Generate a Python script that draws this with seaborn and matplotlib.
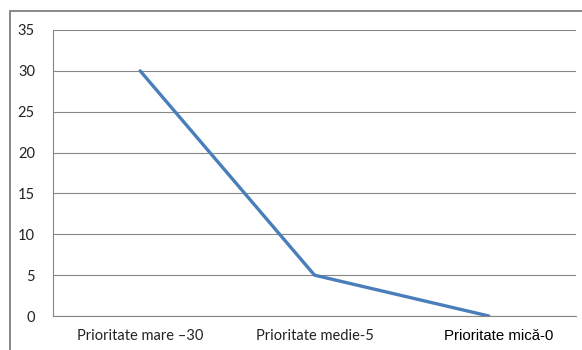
import matplotlib
matplotlib.use("Agg")
import matplotlib.pyplot as plt
import seaborn as sns
import pandas as pd
from matplotlib.patches import Rectangle

categories = ["Prioritate mare \u201330", "Prioritate medie-5", "Prioritate mic\u0103-0"]
values = [30, 5, 0]
yticks = [0, 5, 10, 15, 20, 25, 30, 35]

sns.set_style("white")
plt.rcParams['font.family'] = ['Lato', 'DejaVu Sans']

fig = plt.figure(figsize=(5.82, 3.5), dpi=100)
ax = fig.add_axes([53/582, 1-316/350, (576-53)/582, (316-30)/350])

df = pd.DataFrame({"cat": categories, "val": values})
sns.lineplot(data=df, x="cat", y="val", ax=ax, color="#4a7ebb", linewidth=2.4, sort=False)

grey = "#868686"
ax.set_ylim(0, 35)
ax.set_xlim(-0.5, 2.5)
ax.set_yticks(yticks)
ax.set_yticklabels([str(t) for t in yticks], fontsize=10.5, color="#222222")
ax.yaxis.grid(True, color=grey, linewidth=0.8)
ax.set_axisbelow(True)
ax.set_xlabel("")
ax.set_ylabel("")

ax.set_xticks([0, 1, 2])
ax.set_xticks([-0.5, 0.5, 1.5, 2.5], minor=True)
ax.set_xticklabels(categories[:2] + [""], fontsize=10.5, color="#222222")
# third category label drawn in a different font, slightly right of centre as in the reference
ax.annotate(categories[2], xy=(2, 0), xycoords=("data", "axes fraction"),
            xytext=(7, -9), textcoords="offset points", ha="center", va="top",
            fontsize=10.8, color="#000000", family=['Liberation Sans', 'DejaVu Sans'],
            annotation_clip=False)
ax.tick_params(axis='x', which='major', length=0, pad=9)
ax.tick_params(axis='x', which='minor', length=4, color=grey, width=0.8)
ax.tick_params(axis='y', length=5, color=grey, width=0.8, pad=8)

for s in ["top", "right"]:
    ax.spines[s].set_visible(False)
for s in ["left", "bottom"]:
    ax.spines[s].set_color(grey)
    ax.spines[s].set_linewidth(0.8)

fig.patches.append(Rectangle((10/582, -0.1), 1.0, (350-11)/350 + 0.1,
                             transform=fig.transFigure, fill=False,
                             edgecolor="#7f7f7f", linewidth=1.3, zorder=0))

fig.savefig("out.png", dpi=100)
